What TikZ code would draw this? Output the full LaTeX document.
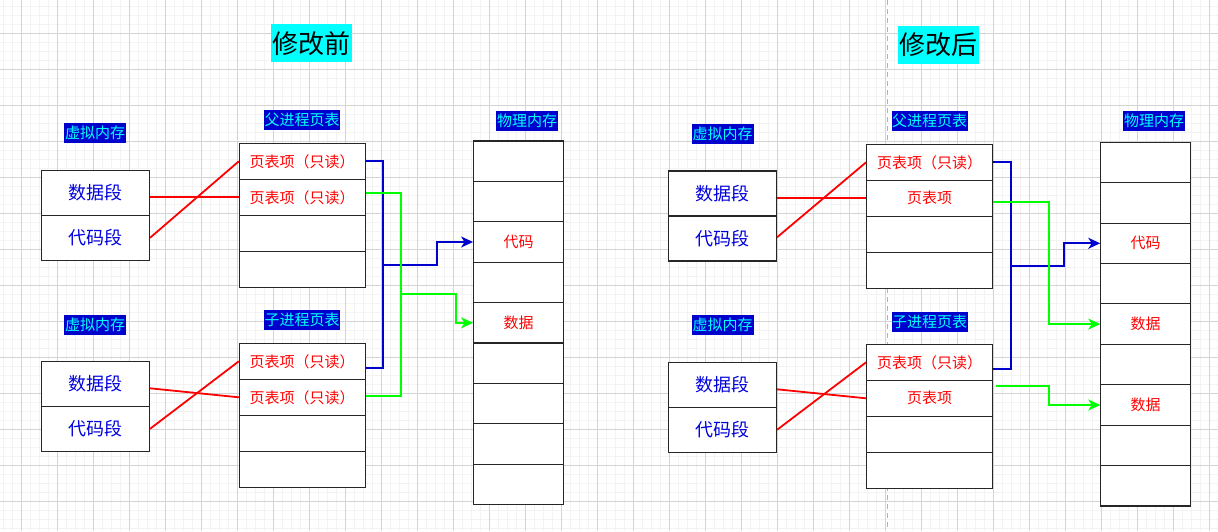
\documentclass[tikz,border=0pt]{standalone}
\usepackage{fontspec}
\newfontfamily\cjk{Noto Sans CJK SC}
\usetikzlibrary{arrows.meta}
\definecolor{lblue}{RGB}{0,0,204}
\definecolor{lgreen}{RGB}{0,255,0}
\definecolor{lred}{RGB}{255,0,0}
\definecolor{lcyan}{RGB}{0,255,255}
\definecolor{vmtext}{RGB}{0,0,220}
\definecolor{minorc}{RGB}{243,243,243}
\definecolor{majorc}{RGB}{212,212,212}
\begin{document}
\begin{tikzpicture}[x=1pt,y=-1pt,
 cell/.style={draw=black!85,line width=1.1pt,fill=white,inner sep=0pt,font=\cjk\fontsize{15}{15}\selectfont,text=lred},
 vmcell/.style={cell,minimum width=108pt,minimum height=45pt,font=\cjk\fontsize{18}{18}\selectfont,text=vmtext},
 ptcell/.style={cell,minimum width=125.7pt,minimum height=36pt},
 mcell/.style={cell,minimum width=89.8pt,minimum height=40.4pt},
 lbl/.style={fill=lblue,text=lcyan,inner sep=0pt,minimum height=20pt,minimum width=62pt,font=\cjk\fontsize{15}{15}\selectfont},
 ttl/.style={fill=lcyan,text=black,inner sep=0pt,minimum width=81pt,minimum height=38pt,font=\cjk\fontsize{26}{26}\selectfont},
 rline/.style={draw=lred,line width=1.8pt},
 bline/.style={draw=lblue,line width=1.8pt},
 gline/.style={draw=lgreen,line width=1.8pt},
 tip/.style={-{Stealth[length=12pt,width=11pt,inset=3.5pt]}},
 minorg/.style={draw=minorc,line width=1pt},
 majorg/.style={draw=majorc,line width=1pt},
]
\useasboundingbox (0,0) rectangle (1218,531);
\fill[white] (0,0) rectangle (1218,531);
% grid
\foreach \i in {0,...,135} \draw[minorg] ({3.3+9*\i},0) -- ({3.3+9*\i},531);
\foreach \j in {0,...,59} \draw[minorg] (0,{-2.7+9*\j}) -- (1218,{-2.7+9*\j});
\foreach \i in {0,...,33} \draw[majorg] ({21.3+36*\i},0) -- ({21.3+36*\i},531);
\foreach \j in {0,...,13} \draw[majorg] (0,{33.3+36*\j}) -- (1218,{33.3+36*\j});
% divider
\draw[draw=black!30,line width=1.5pt,dash pattern=on 5pt off 4pt] (887.3,0) -- (887.3,531);

% ===== left: before =====
\node[ttl] (t1) at (311.5,43.3) {修改前};
\node[lbl] (lv1) at (95,133) {虚拟内存};
\node[vmcell] (va1) at (95.5,192.8) {数据段};
\node[vmcell] (va2) at (95.5,237.8) {代码段};
\node[lbl,minimum width=76pt] (lp1) at (302.2,120.3) {父进程页表};
\node[ptcell] (pa1) at (302.2,161.3) {页表项（只读）};
\node[ptcell] (pa2) at (302.2,197.3) {页表项（只读）};
\node[ptcell] (pa3) at (302.2,233.3) {};
\node[ptcell] (pa4) at (302.2,269.3) {};
\node[lbl] (lv2) at (95,325.3) {虚拟内存};
\node[vmcell] (vb1) at (95.5,383.8) {数据段};
\node[vmcell] (vb2) at (95.5,428.8) {代码段};
\node[lbl,minimum width=76pt] (lc1) at (302.2,320.3) {子进程页表};
\node[ptcell] (cb1) at (302.2,361.3) {页表项（只读）};
\node[ptcell] (cb2) at (302.2,397.3) {页表项（只读）};
\node[ptcell] (cb3) at (302.2,433.3) {};
\node[ptcell] (cb4) at (302.2,469.3) {};
\node[lbl] (lm1) at (527,120.5) {物理内存};
\node[mcell] (ma1) at (518.5,161.2) {};
\node[mcell] (ma2) at (518.5,201.6) {};
\node[mcell] (ma3) at (518.5,242.0) {代码};
\node[mcell] (ma4) at (518.5,282.4) {};
\node[mcell] (ma5) at (518.5,322.8) {数据};
\node[mcell] (ma6) at (518.5,363.2) {};
\node[mcell] (ma7) at (518.5,403.6) {};
\node[mcell] (ma8) at (518.5,444.0) {};
\node[mcell] (ma9) at (518.5,484.4) {};

\draw[rline] (va1.east |- pa2.west) -- (pa2.west);
\draw[rline] (va2.east) -- (pa1.west);
\draw[rline] ([yshift=-4.5pt]vb1.east) -- (cb2.west);
\draw[rline] (vb2.east) -- (cb1.west);

\draw[bline] (pa1.east) -- (383.3,161.3) |- ([yshift=-7pt]cb1.east);
\coordinate (jb1) at (383.3,264.7);
\draw[bline,tip] (jb1) -- (437.3,264.7) |- (ma3.west);
\draw[gline] ([yshift=4.6pt]pa2.east) -- (401,192.7) |- ([yshift=1.6pt]cb2.east);
\coordinate (jg1) at (401,294);
\draw[gline,tip] (jg1) -- (455.7,294) |- (ma5.west);

% ===== right: after =====
\node[ttl] (t2) at (938.5,44.5) {修改后};
\node[lbl] (rv1) at (722.5,134.3) {虚拟内存};
\node[vmcell] (vc1) at (722.5,193.5) {数据段};
\node[vmcell] (vc2) at (722.5,238.5) {代码段};
\node[lbl,minimum width=76pt] (rp1) at (929.6,120.8) {父进程页表};
\node[ptcell] (pc1) at (929.5,162.3) {页表项（只读）};
\node[ptcell] (pc2) at (929.5,198.3) {页表项};
\node[ptcell] (pc3) at (929.5,234.3) {};
\node[ptcell] (pc4) at (929.5,270.3) {};
\node[lbl] (rv2) at (722.5,325.3) {虚拟内存};
\node[vmcell] (vd1) at (722.5,384.8) {数据段};
\node[vmcell] (vd2) at (722.5,429.8) {代码段};
\node[lbl,minimum width=76pt] (rc1) at (929.5,321.7) {子进程页表};
\node[ptcell] (cd1) at (929.5,362.3) {页表项（只读）};
\node[ptcell] (cd2) at (929.5,398.3) {页表项};
\node[ptcell] (cd3) at (929.5,434.3) {};
\node[ptcell] (cd4) at (929.5,470.3) {};
\node[lbl] (rm1) at (1154,121) {物理内存};
\node[mcell] (mb1) at (1145.7,162.5) {};
\node[mcell] (mb2) at (1145.7,202.9) {};
\node[mcell] (mb3) at (1145.7,243.3) {代码};
\node[mcell] (mb4) at (1145.7,283.7) {};
\node[mcell] (mb5) at (1145.7,324.1) {数据};
\node[mcell] (mb6) at (1145.7,364.6) {};
\node[mcell] (mb7) at (1145.7,405.0) {数据};
\node[mcell] (mb8) at (1145.7,445.4) {};
\node[mcell] (mb9) at (1145.7,485.8) {};

\draw[rline] (vc1.east |- pc2.west) -- (pc2.west);
\draw[rline] ([yshift=1.2pt]vc2.east) -- (pc1.west);
\draw[rline] ([yshift=-4.5pt]vd1.east) -- (cd2.west);
\draw[rline] (vd2.east) -- (cd1.west);

\draw[bline] (pc1.east) -- (1010.7,162.3) |- ([yshift=-7pt]cd1.east);
\coordinate (jb2) at (1010.7,265.7);
\draw[bline,tip] (jb2) -- (1064.3,265.7) |- (mb3.west);
\draw[gline,tip] ([yshift=-3.4pt]pc2.east) -- (1049,201.7) |- (mb5.west);
\coordinate (g2s) at ([xshift=3pt,yshift=12.3pt]cd2.east);
\draw[gline,tip] (g2s) -- (1049,386) |- (mb7.west);
\end{tikzpicture}
\end{document}
